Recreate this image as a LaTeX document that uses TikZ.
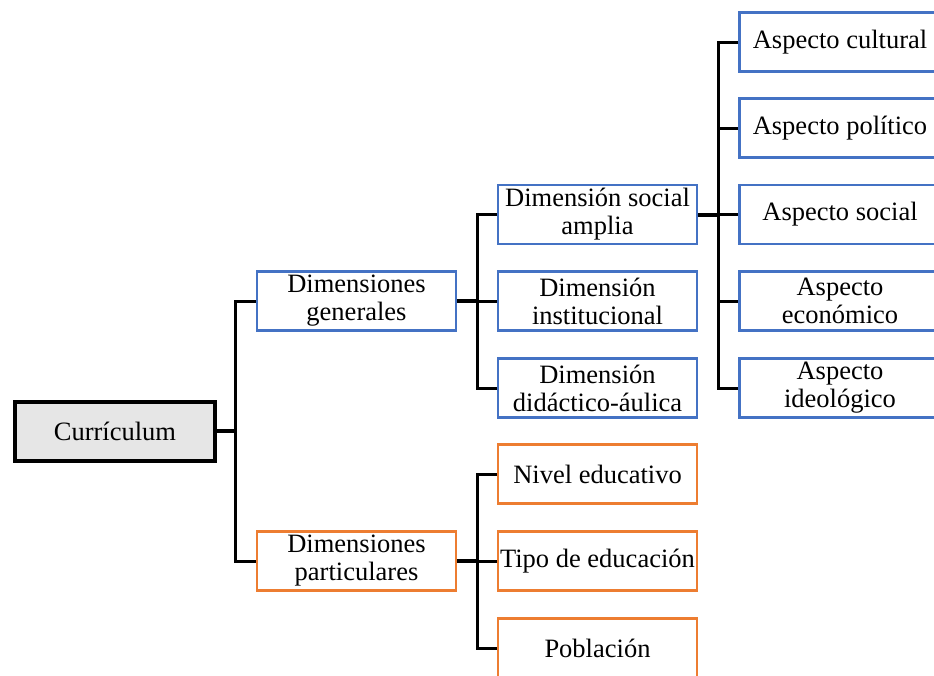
\documentclass[tikz,border=0pt]{standalone}
\usepackage{fontspec}
\setmainfont{Liberation Serif}
\definecolor{boxblue}{HTML}{4472C4}
\definecolor{boxorange}{HTML}{ED7D31}
\definecolor{rootgray}{HTML}{E6E6E6}

\begin{document}
\begin{tikzpicture}[x=1pt, y=-1pt,
    box/.style={draw, line width=2.5pt, minimum width=199pt, minimum height=59pt, inner xsep=2pt, inner ysep=1pt,
        align=center, font=\fontsize{26.5}{28}\selectfont},
    rootbox/.style={box, draw=black, line width=4pt, fill=rootgray, minimum width=200pt},
    bluebox/.style={box, draw=boxblue},
    orangebox/.style={box, draw=boxorange},
    link/.style={draw=black, line width=3pt},
    stem/.style={draw=black, line width=4pt}]
    \clip (0,0) rectangle (934,675);

    \node[rootbox] (cur) at (115,431) {Currículum};
    \node[bluebox] (gen) at (356.5,301) {Dimensiones\\generales};
    \node[orangebox] (par) at (356.5,561) {Dimensiones\\particulares};
    \node[bluebox] (soc) at (597.5,214.5) {Dimensión social\\amplia};
    \node[bluebox] (ins) at (597.5,301) {Dimensión\\institucional};
    \node[bluebox] (did) at (597.5,388) {Dimensión\\didáctico-áulica};
    \node[orangebox] (niv) at (597.5,474) {Nivel educativo};
    \node[orangebox] (tip) at (597.5,561) {Tipo de educación};
    \node[orangebox] (pob) at (597.5,648) {Población};
    \foreach \n/\y/\t in {cul/42/Aspecto cultural, pol/128/Aspecto político, aso/214.5/Aspecto social,
        eco/301/Aspecto\\económico, ide/388/Aspecto\\ideológico}
        {\node[bluebox, minimum width=201pt] (\n) at (840,\y) {\t};}

    \coordinate (j1) at (235,431); \coordinate (j2) at (477,301); \coordinate (j3) at (477,561); \coordinate (j4) at (718,214.5);
    \draw[stem] (cur.east) -- (j1); \draw[stem] (gen.east) -- (j2); \draw[stem] (par.east) -- (j3); \draw[stem] (soc.east) -- (j4);
    \draw[link] (gen.west) -| (j1) |- (par.west);
    \draw[link] (soc.west) -| (j2) |- (did.west); \draw[link] (j2) -- (ins.west);
    \draw[link] (niv.west) -| (j3) |- (pob.west); \draw[link] (j3) -- (tip.west);
    \draw[link] (cul.west) -| (j4) |- (ide.west);
    \foreach \n in {pol,aso,eco} {\draw[link] (j4 |- \n.west) -- (\n.west);}
\end{tikzpicture}
\end{document}
